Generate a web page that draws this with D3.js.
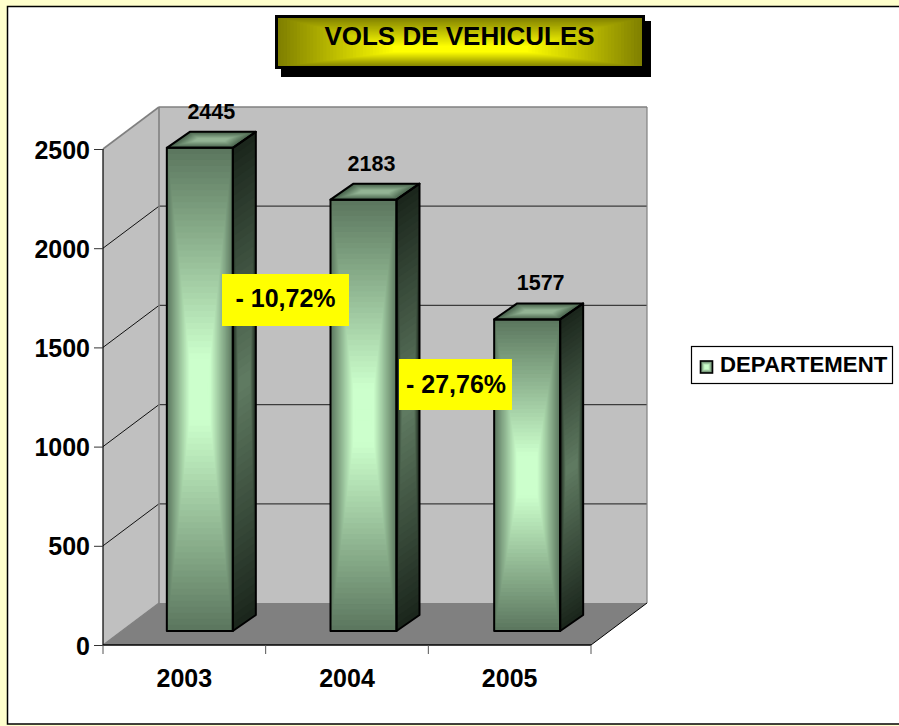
<!DOCTYPE html>
<html><head><meta charset="utf-8">
<style>html,body{margin:0;padding:0;background:#FFFFCC;overflow:hidden}svg{display:block}
text{font-family:"Liberation Sans",Arial,sans-serif;font-weight:bold;fill:#000}</style>
<script src="https://cdn.jsdelivr.net/npm/d3@7/dist/d3.min.js"></script>
</head><body><svg id="c" width="899" height="726"></svg>
<script>
const chartTitle = "VOLS DE VEHICULES";
const categories = ["2003","2004","2005"];
const seriesName = "DEPARTEMENT";
const values = [2445,2183,1577];
const yTicks = [0,500,1000,1500,2000,2500];
const badges = [{t:"- 10,72%",x:222,y:274,w:127,h:52,tx:285.5,ty:307},{t:"- 27,76%",x:399,y:359,w:113,h:51,tx:456,ty:393}];
const labelNudge = [11.5,8,13.5];

const svg = d3.select("#c");
svg.append("rect").attr("width",899).attr("height",726).attr("fill","#FFFFCC");
svg.append("rect").attr("x",7.5).attr("y",6.5).attr("width",900).attr("height",717.5).attr("fill","#fff").attr("stroke","#000").attr("stroke-width",1.5);

const L=103,R=591,Y0=645,Y1=149,DX=56,DY=-42;
const y = d3.scaleLinear().domain([0,2500]).range([Y0,Y1]);
const x = d3.scaleBand().domain(categories).range([L,R]);
const barBand = d3.scaleBand().domain(categories).range([118,609]);
const barY = d3.scaleLinear().domain([0,2500]).range([631,137]);
const barW = 66, bdx = 23, bdy = -16;
const barX = c => barBand(c)+barBand.bandwidth()/2-barW/2;

function poly(pts,fill,stroke,sw){
  return svg.append("polygon").attr("points",pts.map(p=>p.join(",")).join(" ")).attr("fill",fill).attr("stroke",stroke||"none").attr("stroke-width",sw||0).attr("stroke-linejoin","round");
}
// walls and floor
poly([[L,Y0],[L+DX,Y0+DY],[L+DX,Y1+DY],[L,Y1]],"#C0C0C0");
poly([[L+DX,Y0+DY],[R+DX,Y0+DY],[R+DX,Y1+DY],[L+DX,Y1+DY]],"#C0C0C0");
poly([[L,Y0],[R,Y0],[R+DX,Y0+DY],[L+DX,Y0+DY]],"#808080");
// gridlines
yTicks.slice(1,-1).forEach(v=>{
  svg.append("line").attr("x1",L).attr("y1",y(v)).attr("x2",L+DX).attr("y2",y(v)+DY).attr("stroke","#111").attr("stroke-width",1);
  svg.append("line").attr("x1",L+DX).attr("y1",y(v)+DY).attr("x2",R+DX).attr("y2",y(v)+DY).attr("stroke","#3c3c3c").attr("stroke-width",1.3);
});
// wall borders
const edge=(a,b,c,w)=>svg.append("line").attr("x1",a[0]).attr("y1",a[1]).attr("x2",b[0]).attr("y2",b[1]).attr("stroke",c).attr("stroke-width",w);
edge([L+DX,Y0+DY],[L+DX,Y1+DY],"#808080",1.6);
edge([L+DX,Y1+DY],[R+DX,Y1+DY],"#808080",1.6);
edge([R+DX,Y1+DY],[R+DX,Y0+DY],"#808080",1.2);
edge([L,Y1],[L+DX,Y1+DY],"#808080",1.6);
edge([L,Y0],[L+DX,Y0+DY],"#808080",1.2);
edge([R,Y0],[R+DX,Y0+DY],"#000",1);

// nested-ring gradient, drawn in a unit square and mapped on to a face.
// hMax: how far the rings close in horizontally; cy: vertical focus; plateau: ring fraction reaching full centre colour.
function ring(parent,m,outer,center,steps,hMax=1,cy=0.5,plateau=1){
  const col=d3.interpolateRgb(outer,center);
  const s=i=>i/steps;
  parent.append("g").attr("transform",`matrix(${m.join(",")})`)
    .selectAll("rect").data(d3.range(steps)).join("rect")
    .attr("x",i=>s(i)*hMax/2).attr("y",i=>s(i)*cy)
    .attr("width",i=>1-s(i)*hMax).attr("height",i=>1-s(i))
    .attr("fill",i=>col(Math.min(1,i/(steps-1)/plateau)));
}
const gb=svg.append("g");
categories.forEach((c,i)=>{
  const x0=barX(c),x1=x0+barW,t=barY(values[i]),b=barY(0);
  ring(gb,[barW,0,0,b-t,x0,t],"#5C775F","#CCFFCC",40,0.8,0.5,0.88);
  ring(gb,[bdx,bdy,0,b-t,x1,t],"#1B261C","#5F7A61",30,0.5);
  ring(gb,[barW,0,-bdx,-bdy,x0+bdx,t+bdy],"#46604A","#93B494",16,0.65,0.5,0.85);
  const o=gb.append("g").attr("fill","none").attr("stroke","#000").attr("stroke-width",2).attr("stroke-linejoin","round");
  o.append("rect").attr("x",x0).attr("y",t).attr("width",barW).attr("height",b-t);
  o.append("polygon").attr("points",[[x1,t],[x1+bdx,t+bdy],[x1+bdx,b+bdy],[x1,b]].join(" "));
  o.append("polygon").attr("points",[[x0,t],[x0+bdx,t+bdy],[x1+bdx,t+bdy],[x1,t]].join(" "));
  svg.append("text").attr("x",x0+barW/2+labelNudge[i]).attr("y",t-29).attr("text-anchor","middle").attr("font-size",21.5).text(values[i]);
});

// axes
const axY=svg.append("g").attr("transform",`translate(${L},0)`).call(d3.axisLeft(y).tickValues(yTicks).tickSize(9).tickPadding(4).tickFormat(d3.format("d")));
axY.select(".domain").attr("stroke","#000").attr("stroke-width",1.2).attr("d",`M0,${Y1}V${Y0}`);
axY.selectAll(".tick line").attr("stroke","#333").attr("stroke-width",1);
axY.selectAll("text").attr("font-size",25).attr("font-family",'"Liberation Sans",Arial,sans-serif').attr("font-weight","bold").attr("dy",9).attr("fill","#000");
const axX=svg.append("g").attr("transform",`translate(0,${Y0})`).call(d3.axisBottom(x).tickSize(0).tickPadding(24));
axX.select(".domain").attr("stroke","#000").attr("stroke-width",1.6).attr("d",`M${L},0H${R}`);
axX.selectAll("text").attr("font-size",25).attr("font-family",'"Liberation Sans",Arial,sans-serif').attr("font-weight","bold").attr("fill","#000").attr("dy","0.71em");
axX.selectAll(".sep").data(d3.range(categories.length+1)).join("line").attr("class","sep")
  .attr("x1",i=>L+i*x.bandwidth()).attr("x2",i=>L+i*x.bandwidth()).attr("y1",0).attr("y2",9).attr("stroke","#555").attr("stroke-width",1);

// percent badges
const gBadge=svg.append("g").selectAll("g").data(badges).join("g");
gBadge.append("rect").attr("x",d=>d.x).attr("y",d=>d.y).attr("width",d=>d.w).attr("height",d=>d.h).attr("fill","#FFFF00");
gBadge.append("text").attr("x",d=>d.tx).attr("y",d=>d.ty).attr("text-anchor","middle").attr("font-size",25).text(d=>d.t);

// title
svg.append("rect").attr("x",281).attr("y",21).attr("width",370).attr("height",56).attr("fill","#000");
ring(svg,[367,0,0,50,277,17],"#7F7F00","#FFFF00",40,0.72,0.66,0.9);
svg.append("rect").attr("x",276.5).attr("y",16.5).attr("width",367).attr("height",51).attr("fill","none").attr("stroke","#000").attr("stroke-width",3);
svg.append("text").attr("x",459.5).attr("y",45).attr("text-anchor","middle").attr("font-size",26).text(chartTitle);

// legend
svg.append("rect").attr("x",691.5).attr("y",346.5).attr("width",201).attr("height",37).attr("fill","#fff").attr("stroke","#000").attr("stroke-width",1.2);
ring(svg,[12,0,0,12,700.5,361],"#5C775F","#CCFFCC",6,1,0.5,0.7);
svg.append("rect").attr("x",700.5).attr("y",361).attr("width",12).attr("height",12).attr("fill","none").attr("stroke","#000").attr("stroke-width",1.6);
svg.append("text").attr("x",720).attr("y",372).attr("font-size",22.2).text(seriesName);
</script></body></html>
